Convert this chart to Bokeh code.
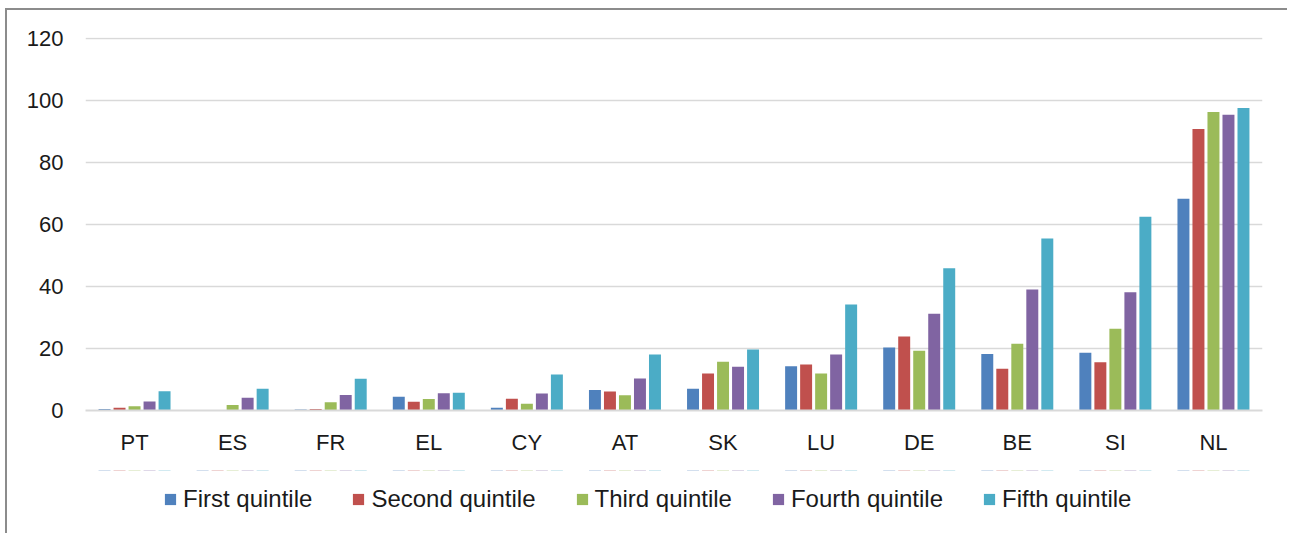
from bokeh.plotting import figure
from bokeh.models import FactorRange, Range1d, Legend, LegendItem, FixedTicker, ColumnDataSource
from bokeh.layouts import column
from bokeh.transform import dodge
from bokeh.embed import file_html
from bokeh.resources import INLINE

countries = ["PT", "ES", "FR", "EL", "CY", "AT", "SK", "LU", "DE", "BE", "SI", "NL"]
first_q  = [0.5, 0.0, 0.3, 4.4, 0.9, 6.6, 7.0, 14.3, 20.3, 18.2, 18.6, 68.3]
second_q = [0.9, 0.0, 0.5, 2.8, 3.8, 6.1, 11.9, 14.8, 23.9, 13.5, 15.6, 90.8]
third_q  = [1.4, 1.8, 2.7, 3.7, 2.2, 4.9, 15.7, 11.9, 19.3, 21.5, 26.4, 96.3]
fourth_q = [2.9, 4.1, 5.0, 5.6, 5.5, 10.3, 14.1, 18.1, 31.2, 39.0, 38.1, 95.4]
fifth_q  = [6.2, 7.0, 10.2, 5.7, 11.6, 18.1, 19.7, 34.2, 45.9, 55.5, 62.5, 97.6]
series_names = ["First quintile", "Second quintile", "Third quintile", "Fourth quintile", "Fifth quintile"]
colors = ["#4F81BD", "#C0504D", "#9BBB59", "#8064A2", "#4BACC6"]
y_ticks = [0, 20, 40, 60, 80, 100, 120]

FONT = "Liberation Sans"

source = ColumnDataSource(dict(country=countries, q1=first_q, q2=second_q,
                               q3=third_q, q4=fourth_q, q5=fifth_q))
offsets = [-0.306, -0.153, 0.0, 0.153, 0.306]
cols = ["q1", "q2", "q3", "q4", "q5"]

# ---- main chart ----
p = figure(x_range=FactorRange(*countries), y_range=Range1d(0, 120.3),
           width=1280, height=460, output_backend="svg", toolbar_location=None,
           min_border_left=78, min_border_right=25, min_border_top=27, min_border_bottom=60)
p.outline_line_color = None
p.background_fill_color = "white"
p.border_fill_color = "white"

for col, off, c in zip(cols, offsets, colors):
    p.vbar(x=dodge("country", off, range=p.x_range), top=col, width=0.122,
           source=source, fill_color=c, line_color=None)

p.xgrid.grid_line_color = None
p.ygrid.grid_line_color = "#d9d9d9"
p.ygrid.grid_line_width = 1.5
p.yaxis.ticker = FixedTicker(ticks=y_ticks)
p.yaxis.axis_line_color = None
p.yaxis.major_tick_line_color = None
p.yaxis.minor_tick_line_color = None
p.yaxis.major_label_standoff = 16
p.yaxis.major_label_text_font = FONT
p.yaxis.major_label_text_font_size = "22px"
p.yaxis.major_label_text_color = "#1a1a1a"

p.xaxis.axis_line_color = "#d9d9d9"
p.xaxis.axis_line_width = 2
p.xaxis.major_tick_line_color = None
p.xaxis.minor_tick_line_color = None
p.xaxis.major_label_standoff = 13
p.xaxis.major_label_text_font = FONT
p.xaxis.major_label_text_font_size = "22px"
p.xaxis.major_label_text_color = "#1a1a1a"
p.x_range.range_padding = 0
p.x_range.group_padding = 0

# ---- legend strip (same series as zero-height marks outside the window; only the legend shows) ----
p2 = figure(x_range=p.x_range, y_range=Range1d(-2, -1), width=1280, height=63,
            output_backend="svg", toolbar_location=None,
            min_border_left=78, min_border_right=25, min_border_top=0, min_border_bottom=0)
p2.axis.visible = False
p2.grid.visible = False
p2.outline_line_color = None
p2.background_fill_color = "white"
p2.border_fill_color = "white"
leg_renderers = []
for col, off, c in zip(cols, offsets, colors):
    r = p2.vbar(x=dodge("country", off, range=p.x_range), top=col, bottom=col, width=0.122,
                source=source, fill_color=c, line_color=None)
    leg_renderers.append(r)

legend = Legend(items=[LegendItem(label=n, renderers=[r]) for n, r in zip(series_names, leg_renderers)],
                orientation="horizontal", location=(78, 20),
                glyph_width=14, glyph_height=14, label_standoff=6, spacing=39,
                padding=0, margin=0, border_line_color=None, background_fill_alpha=0,
                label_text_font=FONT, label_text_font_size="24px", label_text_color="#1a1a1a")
p2.add_layout(legend, "center")

layout = column(p, p2, spacing=0)
layout.styles = {"border-top": "2px solid #8c8c8c", "border-left": "2px solid #8c8c8c",
                 "margin-left": "5px", "margin-top": "8px"}

open("out.html", "w").write(file_html(layout, INLINE))
